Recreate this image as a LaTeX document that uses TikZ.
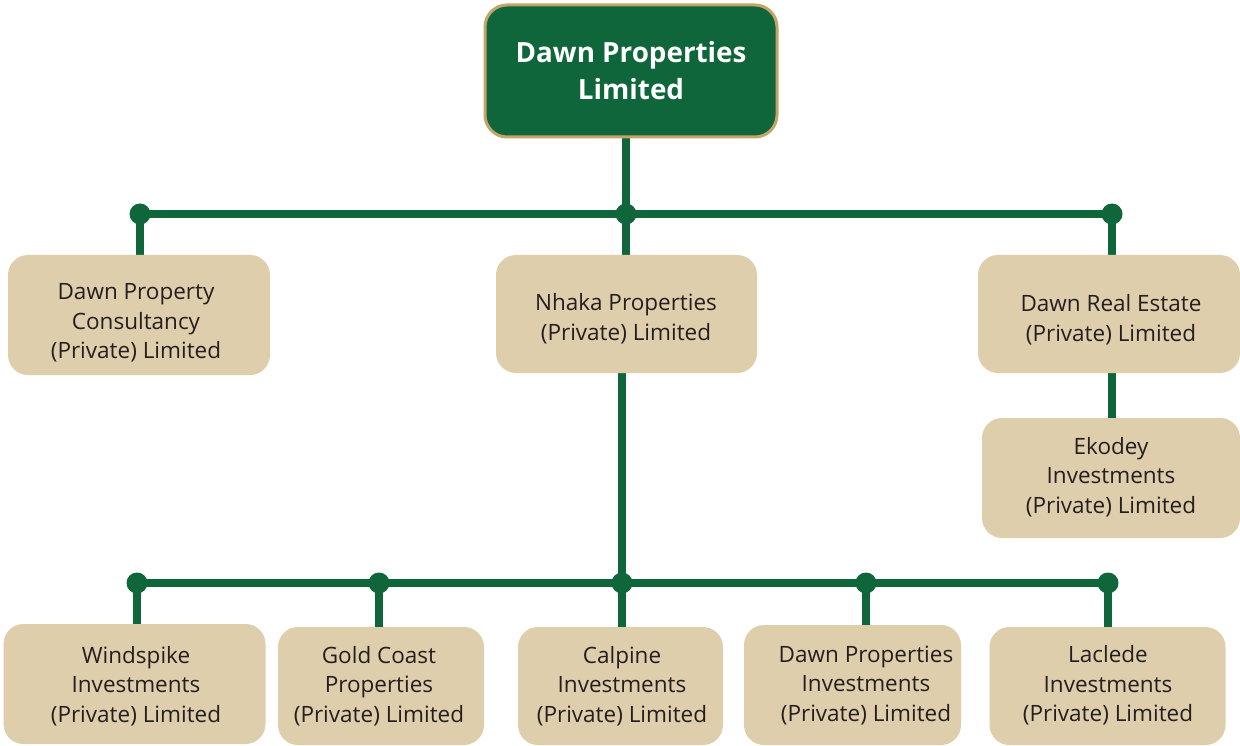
\documentclass[tikz,border=0pt]{standalone}
\usepackage{fontspec}
\setmainfont{Open Sans}
\usetikzlibrary{backgrounds}
\definecolor{dgreen}{RGB}{14,102,58}
\definecolor{sand}{RGB}{223,206,172}
\definecolor{gold}{RGB}{196,164,104}
\definecolor{ink}{RGB}{35,31,32}
\begin{document}
\begin{tikzpicture}[x=1pt,y=-1pt,
  unit/.style={rectangle, rounded corners=20pt, fill=sand, inner sep=0pt},
  caption/.style={text=ink, align=center, font=\fontsize{22.5}{29.5}\selectfont, inner sep=0pt},
  head/.style={rectangle, rounded corners=22pt, fill=dgreen, draw=gold, line width=3pt,
    text=white, align=center, font=\bfseries\fontsize{27.8}{37}\selectfont, inner sep=0pt},
  link/.style={draw=dgreen, line width=8pt},
  joint/.style={circle, fill=dgreen, inner sep=0pt, minimum size=21pt}]
\useasboundingbox (0,0) rectangle (1240,746);

% parent company
\node[head, minimum width=292pt, minimum height=132pt] (top) at (631,71) {Dawn Properties\\Limited};

% first tier boxes and their names
\node[unit, minimum width=262pt, minimum height=120pt] (dpc) at (139,315) {};
\node[caption] (dpct) at (136,323) {Dawn Property\\Consultancy\\(Private) Limited};
\node[unit, minimum width=261pt, minimum height=118pt] (nhaka) at (626.5,314) {};
\node[caption] (nhakat) at (626,318.5) {Nhaka Properties\\(Private) Limited};
\node[unit, minimum width=262pt, minimum height=118pt] (dre) at (1109,314) {};
\node[caption] (dret) at (1111,319.5) {Dawn Real Estate\\(Private) Limited};
\node[unit, minimum width=258pt, minimum height=120pt] (eko) at (1111,478) {};
\node[caption] (ekot) at (1111,477) {Ekodey\\Investments\\(Private) Limited};

% Nhaka subsidiaries
\node[unit, minimum width=262pt, minimum height=120pt] (wind) at (134.5,684) {};
\node[caption] (windt) at (136,686) {Windspike\\Investments\\(Private) Limited};
\node[unit, minimum width=206pt, minimum height=118pt] (gold) at (381,686) {};
\node[caption] (goldt) at (379,686) {Gold Coast\\Properties\\(Private) Limited};
\node[unit, minimum width=205pt, minimum height=118pt] (calp) at (620.5,686) {};
\node[caption] (calpt) at (622,686) {Calpine\\Investments\\(Private) Limited};
\node[unit, minimum width=217pt, minimum height=120pt] (dpi) at (852.5,685) {};
\node[caption] (dpit) at (866,685.5) {Dawn Properties\\Investments\\(Private) Limited};
\node[unit, minimum width=236pt, minimum height=118pt] (lac) at (1107.5,686) {};
\node[caption] (lact) at (1108,685.5) {Laclede\\Investments\\(Private) Limited};

% junction points
\node[joint] (ja) at (140,214) {};
\node[joint] (jb) at (626,214) {};
\node[joint] (jc) at (1112,214) {};
\node[joint] (k1) at (137,583) {};
\node[joint] (k2) at (379,583) {};
\node[joint] (k3) at (622,583) {};
\node[joint] (k4) at (866,583) {};
\node[joint] (k5) at (1108,583) {};

\begin{scope}[on background layer]
  \fill[white] (0,0) rectangle (1240,746);
  \draw[link] (top.south -| jb) -- (jb.center);
  \draw[link] (ja.center) -- (jc.center);
  \draw[link] (ja.center) -- (ja.center |- dpc.north);
  \draw[link] (jb.center) -- (jb.center |- nhaka.north);
  \draw[link] (jc.center) -- (jc.center |- dre.north);
  \draw[link] (jc |- dre.south) -- (jc |- eko.north);
  \draw[link] (k3 |- nhaka.south) -- (k3.center);
  \draw[link] (k1.center) -- (k5.center);
  \draw[link] (k1.center) -- (k1.center |- wind.north);
  \draw[link] (k2.center) -- (k2.center |- gold.north);
  \draw[link] (k3.center) -- (k3.center |- calp.north);
  \draw[link] (k4.center) -- (k4.center |- dpi.north);
  \draw[link] (k5.center) -- (k5.center |- lac.north);
\end{scope}
\end{tikzpicture}
\end{document}
